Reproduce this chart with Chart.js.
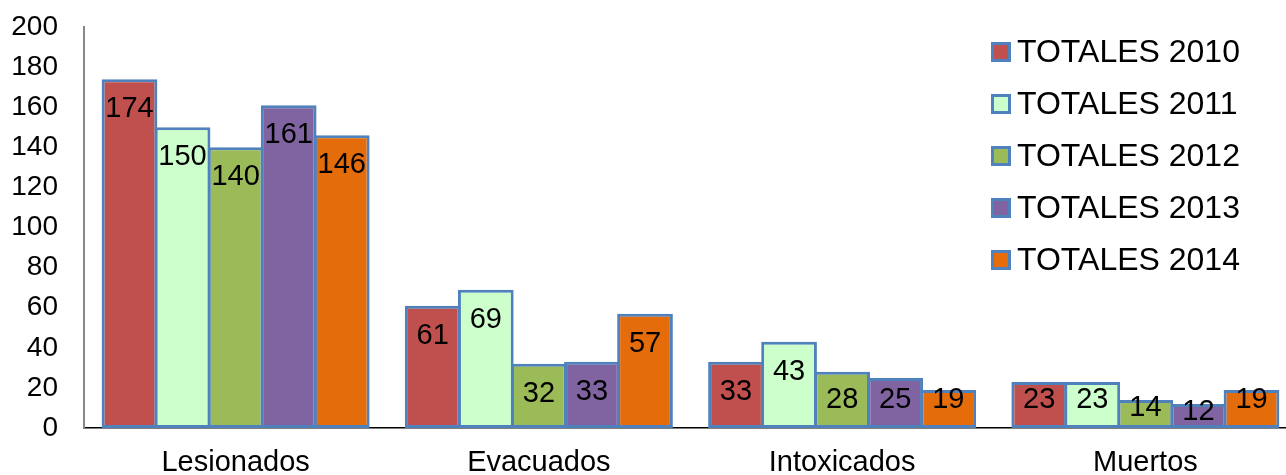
<!DOCTYPE html>
<html>
<head>
<meta charset="utf-8">
<script src="https://cdn.jsdelivr.net/npm/chart.js@4"></script>
<style>
  html, body { margin: 0; padding: 0; background: #fff; overflow: hidden; }
  /* a bit wider than the window: the plot is cut at the right edge like the original */
  #wrap { width: 1297px; height: 475px; }
</style>
</head>
<body>
<div id="wrap"><canvas id="accidentChart"></canvas></div>
<script>
const categories = ['Lesionados', 'Evacuados', 'Intoxicados', 'Muertos'];
const seriesNames = ['TOTALES 2010', 'TOTALES 2011', 'TOTALES 2012', 'TOTALES 2013', 'TOTALES 2014'];
const totals2010 = [174, 61, 33, 23];
const totals2011 = [150, 69, 43, 23];
const totals2012 = [140, 32, 28, 14];
const totals2013 = [161, 33, 25, 12];
const totals2014 = [146, 57, 19, 19];
const yTicks = [0, 20, 40, 60, 80, 100, 120, 140, 160, 180, 200];

const fillColors = ['#C0504D', '#CCFFCC', '#9BBB59', '#8064A2', '#E46C0A'];
const edgeColor = '#4F81BD';
const fontFamily = "'Liberation Sans', Arial, sans-serif";

// numbers inside the bars, near the top
const barLabels = {
  id: 'barLabels',
  afterDatasetsDraw(chart) {
    const ctx = chart.ctx;
    const base = chart.scales.y.getPixelForValue(0);
    ctx.save();
    ctx.font = '29px ' + fontFamily;
    ctx.fillStyle = '#000';
    ctx.textAlign = 'center';
    ctx.textBaseline = 'middle';
    chart.data.datasets.forEach((ds, i) => {
      chart.getDatasetMeta(i).data.forEach((bar, j) => {
        const top = bar.y;
        const y = Math.min(top + 30, Math.max(top + 8, base - 28));
        ctx.fillText(String(ds.data[j]), bar.x, y);
      });
    });
    ctx.restore();
  }
};

// legend drawn over the plot, top right
const sideLegend = {
  id: 'sideLegend',
  afterDraw(chart) {
    const ctx = chart.ctx;
    const x0 = chart.width - 306;
    ctx.save();
    ctx.font = '32px ' + fontFamily;
    ctx.textBaseline = 'middle';
    chart.data.datasets.forEach((ds, i) => {
      const cy = 52 + i * 52;
      ctx.fillStyle = edgeColor;
      ctx.fillRect(x0, cy - 10, 20, 20);
      ctx.fillStyle = ds.backgroundColor;
      ctx.fillRect(x0 + 3, cy - 7, 14, 14);
      ctx.fillStyle = '#000';
      ctx.fillText(ds.label, x0 + 26, cy + 1);
    });
    ctx.restore();
  }
};

const seriesData = [totals2010, totals2011, totals2012, totals2013, totals2014];

new Chart(document.getElementById('accidentChart').getContext('2d'), {
  type: 'bar',
  data: {
    labels: categories,
    datasets: seriesData.map((vals, i) => ({
      label: seriesNames[i],
      data: vals,
      backgroundColor: fillColors[i],
      borderColor: edgeColor,
      borderWidth: 3,
      borderSkipped: false,
      categoryPercentage: 0.875,
      barPercentage: 1.05
    }))
  },
  options: {
    responsive: true,
    maintainAspectRatio: false,
    animation: false,
    layout: { padding: { top: 27, right: 0, bottom: 0, left: 10 } },
    plugins: {
      legend: { display: false },
      tooltip: { enabled: false }
    },
    scales: {
      x: {
        grid: { display: false, drawTicks: false },
        border: { display: true, color: '#000', width: 1.5 },
        afterFit(scale) {
          scale.height = 47;
          scale.paddingLeft = 0;
          scale.paddingRight = 0;
        },
        ticks: {
          color: '#000',
          padding: 20,
          font: { family: fontFamily, size: 29, lineHeight: 1 }
        }
      },
      y: {
        min: 0,
        max: 200,
        afterBuildTicks(scale) {
          scale.ticks = yTicks.map(v => ({ value: v }));
        },
        afterFit(scale) {
          scale.width = 74;
          scale.paddingTop = 0;
          scale.paddingBottom = 0;
        },
        grid: { display: false, drawTicks: false },
        border: { display: true, color: '#888', width: 2 },
        ticks: {
          color: '#000',
          padding: 26,
          font: { family: fontFamily, size: 28, lineHeight: 1 }
        }
      }
    }
  },
  plugins: [barLabels, sideLegend]
});
</script>
</body>
</html>
